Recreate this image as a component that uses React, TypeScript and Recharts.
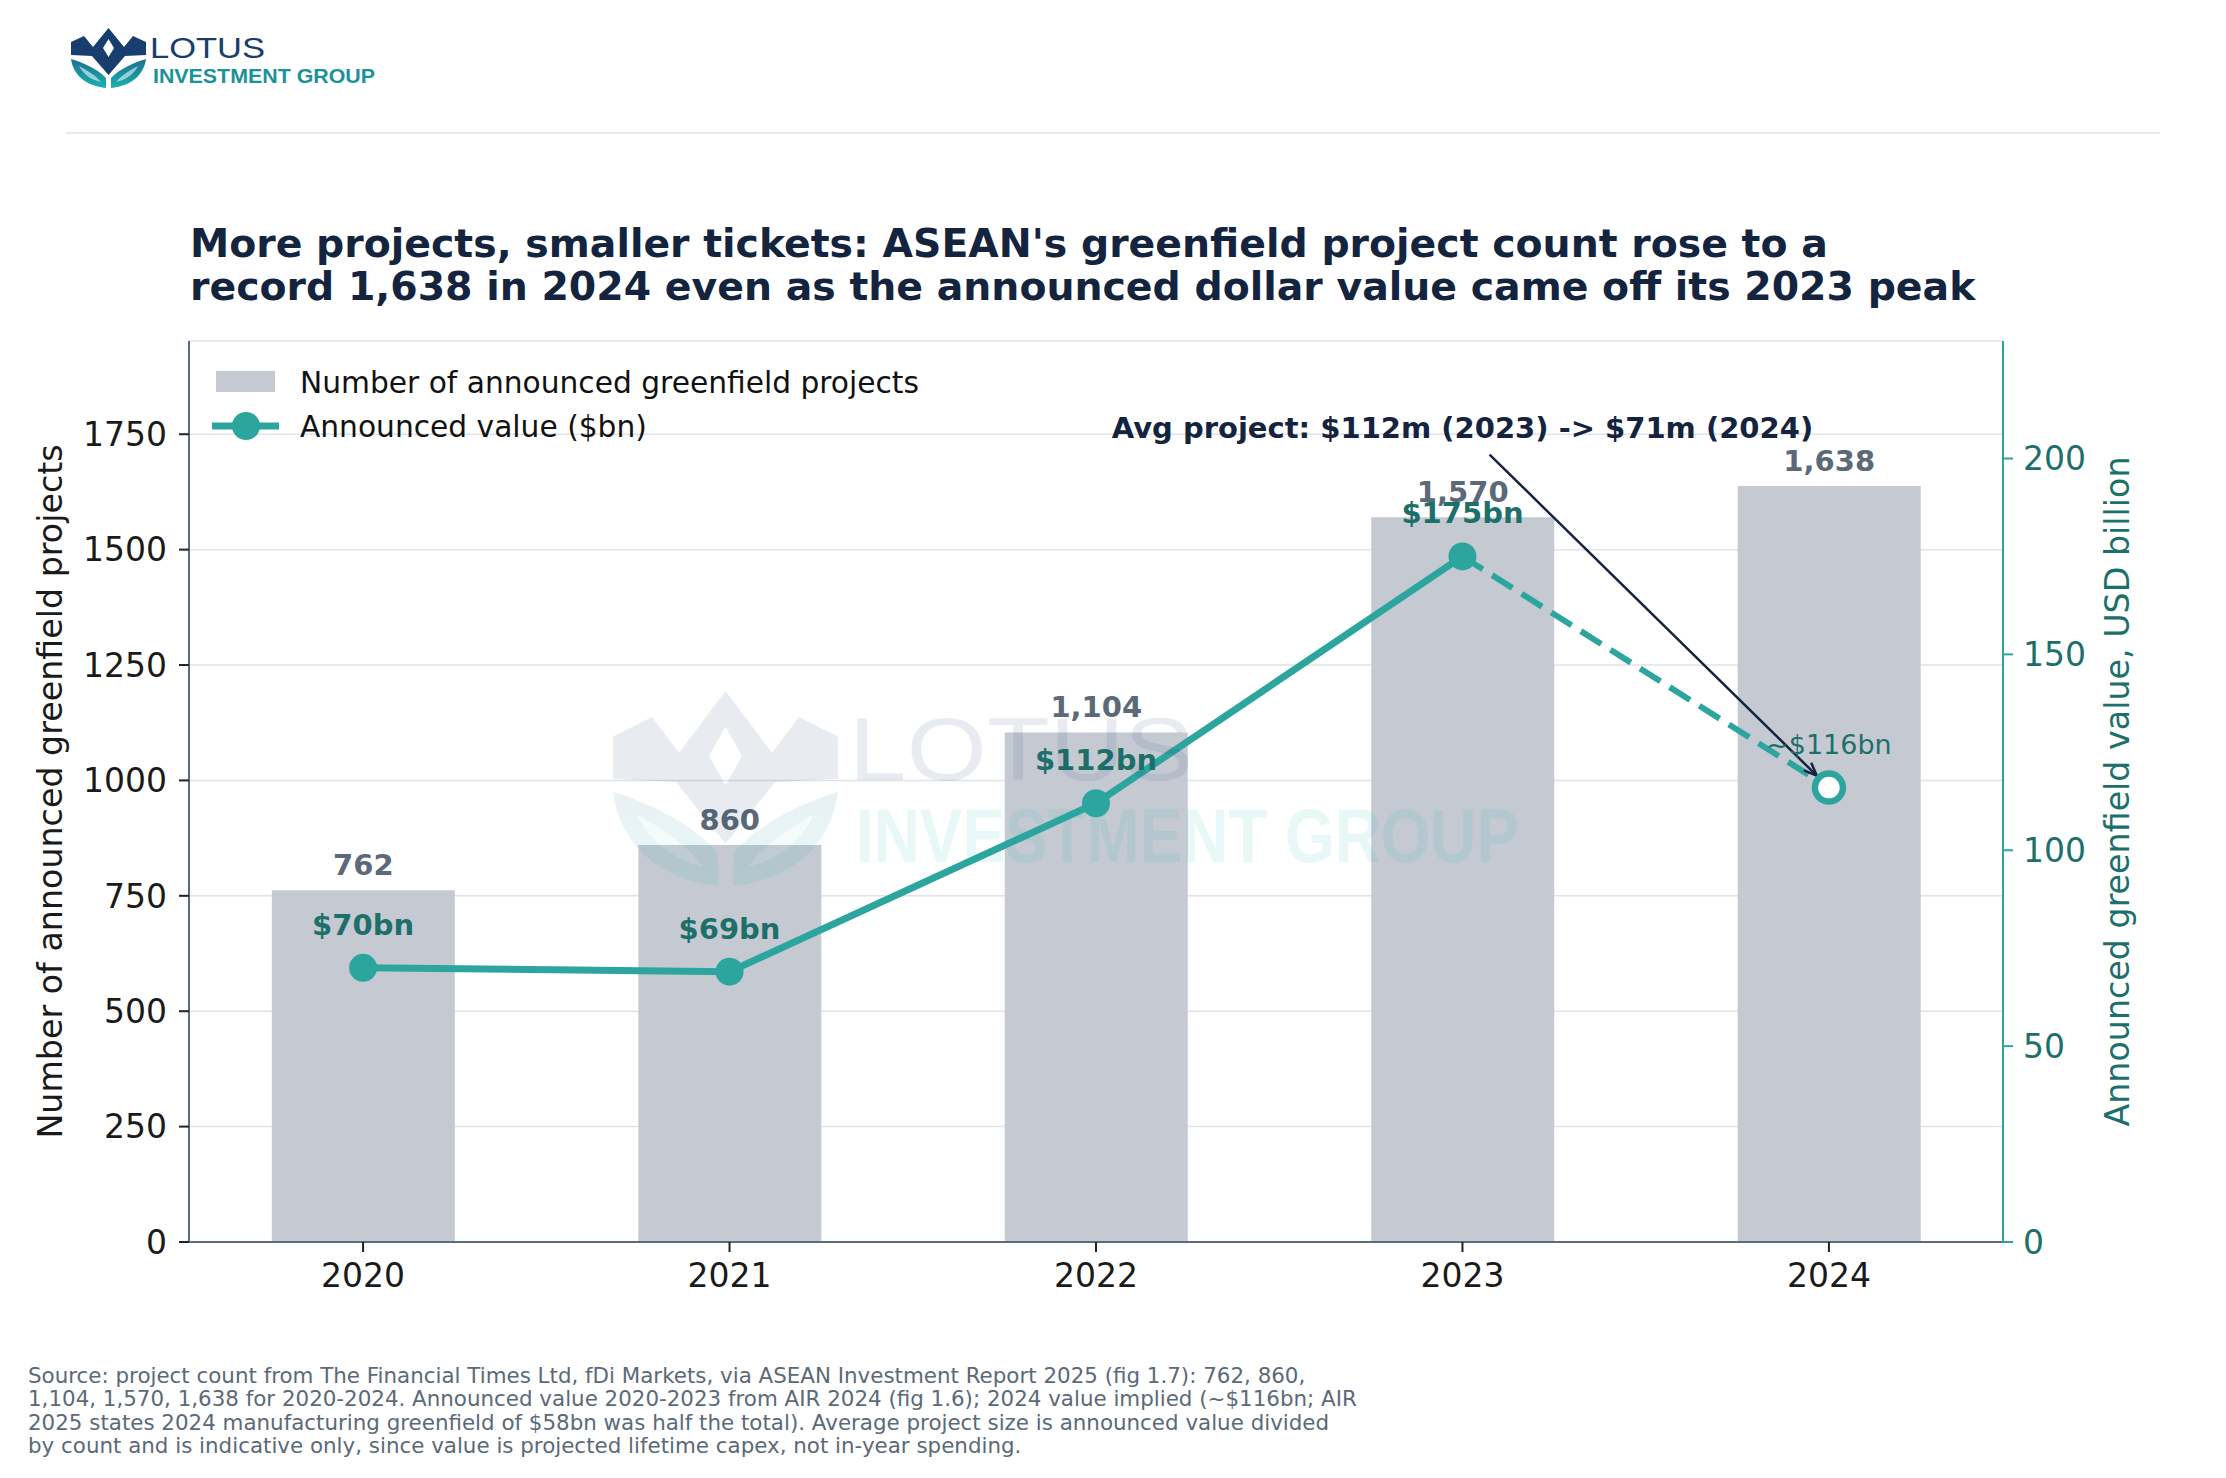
import { ComposedChart, Bar, Line, XAxis, YAxis, CartesianGrid, LabelList, ReferenceLine } from 'recharts';

const years = ['2020', '2021', '2022', '2023', '2024'];
const projectCounts = [762, 860, 1104, 1570, 1638];
// announced value, $bn (2024 is implied, drawn dashed)
const announcedValues = [70, 69, 112, 175, 116];
const impliedIndex = 4;
const countTicks = [0, 250, 500, 750, 1000, 1250, 1500, 1750];
const valueTicks = [0, 50, 100, 150, 200];

const TEAL = '#2ca59e';
const TEAL_DARK = '#1d6f6a';
const NAVY = '#14243f';
const SLATE = '#5c6b7a';
const BAR = '#c5cad2';
const FONT = '"DejaVu Sans", sans-serif';

const data = years.map((year, i) => ({
  idx: i,
  year,
  count: projectCounts[i],
  value: i < impliedIndex ? announcedValues[i] : null,
  implied: i >= impliedIndex - 1 ? announcedValues[i] : null,
}));

const CountLabel = (props: any) => {
  const { x, y, width, value } = props;
  return (
    <text x={x + width / 2} y={y - 25} textAnchor="middle" dominantBaseline="central"
      fontFamily={FONT} fontSize={29} fontWeight="bold" fill="#5b6978">
      {Number(value).toLocaleString('en-US')}
    </text>
  );
};

const ValueLabel = (props: any) => {
  const { x, y, value } = props;
  if (value == null) return null;
  return (
    <text x={x} y={y - 43} textAnchor="middle" dominantBaseline="central"
      fontFamily={FONT} fontSize={29} fontWeight="bold" fill={TEAL_DARK}>
      ${value}bn
    </text>
  );
};

const ImpliedLabel = (props: any) => {
  const { x, y, value, index } = props;
  if (value == null || index !== impliedIndex) return null;
  return (
    <text x={x} y={y - 43} textAnchor="middle" dominantBaseline="central"
      fontFamily={FONT} fontSize={27} fill={TEAL_DARK}>
      ~${value}bn
    </text>
  );
};

const SolidDot = (props: any) => {
  const { cx, cy, value, index } = props;
  if (value == null) return <g key={`sd-${index}`} />;
  return <circle key={`sd-${index}`} cx={cx} cy={cy} r={14} fill={TEAL} />;
};

const HollowDot = (props: any) => {
  const { cx, cy, index } = props;
  if (index !== impliedIndex) return <g key={`hd-${index}`} />;
  return <circle key={`hd-${index}`} cx={cx} cy={cy} r={14} fill="#ffffff" stroke={TEAL} strokeWidth={6.5} />;
};

const AnnotationArrow = (props: any) => {
  const { x1, y1, x2, y2 } = props;
  const dx = x2 - x1;
  const dy = y2 - y1;
  const len = Math.sqrt(dx * dx + dy * dy);
  const ux = dx / len;
  const uy = dy / len;
  const sx = x1 + ux * 38;
  const sy = y1 + uy * 38;
  const ex = x2 - ux * 17;
  const ey = y2 - uy * 17;
  const head = 14;
  const a = (22 * Math.PI) / 180;
  const h1x = ex - head * (ux * Math.cos(a) - uy * Math.sin(a));
  const h1y = ey - head * (uy * Math.cos(a) + ux * Math.sin(a));
  const h2x = ex - head * (ux * Math.cos(a) + uy * Math.sin(a));
  const h2y = ey - head * (uy * Math.cos(a) - ux * Math.sin(a));
  return (
    <g>
      <line x1={sx} y1={sy} x2={ex} y2={ey} stroke={NAVY} strokeWidth={2.5} />
      <polyline points={`${h1x},${h1y} ${ex},${ey} ${h2x},${h2y}`} fill="none" stroke={NAVY} strokeWidth={2.5} />
      <text x={x1} y={y1} textAnchor="middle" dominantBaseline="central"
        fontFamily={FONT} fontSize={29} fontWeight="bold" fill={NAVY}>
        Avg project: $112m (2023) -&gt; $71m (2024)
      </text>
    </g>
  );
};

const LeftAxisLabel = (props: any) => {
  const { viewBox } = props;
  const cx = viewBox.x + 50;
  const cy = viewBox.y + viewBox.height / 2;
  return (
    <text x={cx} y={cy} transform={`rotate(-90, ${cx}, ${cy})`} textAnchor="middle" dominantBaseline="central"
      fontFamily={FONT} fontSize={33.3} fill="#1a1a1a">
      Number of announced greenfield projects
    </text>
  );
};

const RightAxisLabel = (props: any) => {
  const { viewBox } = props;
  const cx = viewBox.x + 114;
  const cy = viewBox.y + viewBox.height / 2;
  return (
    <text x={cx} y={cy} transform={`rotate(-90, ${cx}, ${cy})`} textAnchor="middle" dominantBaseline="central"
      fontFamily={FONT} fontSize={33.3} fill={TEAL_DARK}>
      Announced greenfield value, USD billion
    </text>
  );
};

const LotusIcon = ({ id }: { id: string }) => (
  <g>
    <defs>
      <linearGradient id={id} x1="0" y1="0" x2="0" y2="1">
        <stop offset="0%" stopColor="#1d6f8f" />
        <stop offset="100%" stopColor="#19b3b0" />
      </linearGradient>
    </defs>
    <path
      d="M0,14 L13,8 L22,19 L37.5,0 L53,19 L62,8 L75,14 L75,27 L54,28 L37.5,47 L21,28 L0,27 Z M37.5,11 L43,20 L37.5,29 L32,20 Z"
      fill="#173e6e" fillRule="evenodd"
    />
    <path d="M0,31 C10,34 26,40 35,50 L35,60 C14,58 2,46 0,31 Z" fill={`url(#${id})`} />
    <path d="M75,31 C65,34 49,40 40,50 L40,60 C61,58 73,46 75,31 Z" fill={`url(#${id})`} />
    <path d="M8,38 C16,42 24,47 30,54 C20,52 12,46 8,38 Z" fill="#ffffff" opacity={0.55} />
    <path d="M67,38 C59,42 51,47 45,54 C55,52 63,46 67,38 Z" fill="#ffffff" opacity={0.55} />
  </g>
);

const footerLines = [
  'Source: project count from The Financial Times Ltd, fDi Markets, via ASEAN Investment Report 2025 (fig 1.7): 762, 860,',
  '1,104, 1,570, 1,638 for 2020-2024. Announced value 2020-2023 from AIR 2024 (fig 1.6); 2024 value implied (~$116bn; AIR',
  '2025 states 2024 manufacturing greenfield of $58bn was half the total). Average project size is announced value divided',
  'by count and is indicative only, since value is projected lifetime capex, not in-year spending.',
];

export default function App() {
  return (
    <div style={{ position: 'absolute', left: 0, top: 0, width: 2226, height: 1478, background: '#ffffff', fontFamily: FONT }}>
      <svg width={2226} height={1478} style={{ position: 'absolute', left: 0, top: 0 }}>
        <g transform="translate(71,28)">
          <LotusIcon id="logoGrad" />
        </g>
        <text x={150} y={58} fontFamily='"Liberation Sans", Arial, sans-serif' fontSize={30} fill="#173e6e"
          textLength={115} lengthAdjust="spacingAndGlyphs">LOTUS</text>
        <text x={153} y={83} fontFamily='"Liberation Sans", Arial, sans-serif' fontSize={21} fontWeight="bold" fill="#1a929c"
          textLength={222} lengthAdjust="spacingAndGlyphs">INVESTMENT GROUP</text>
        <line x1={66} y1={133} x2={2160} y2={133} stroke="#e2e2dc" strokeWidth={1.5} />
        <text x={190} y={257} fontFamily={FONT} fontSize={39.4} fontWeight="bold" fill={NAVY}>
          More projects, smaller tickets: ASEAN's greenfield project count rose to a
        </text>
        <text x={190} y={300} fontFamily={FONT} fontSize={39.4} fontWeight="bold" fill={NAVY}>
          record 1,638 in 2024 even as the announced dollar value came off its 2023 peak
        </text>
        {footerLines.map((t, i) => (
          <text key={i} x={28} y={1383 + i * 23.3} fontFamily={FONT} fontSize={21.4} fill="#5b6978">{t}</text>
        ))}
      </svg>

      <div style={{ position: 'absolute', left: 0, top: 0 }}>
        <ComposedChart width={2226} height={1478} data={data} margin={{ top: 341, right: 0, bottom: 186, left: 0 }}>
          <CartesianGrid vertical={false} stroke="#dfe2e7" strokeWidth={1.5} />
          <XAxis
            dataKey="idx"
            type="number"
            domain={[-0.475, 4.475]}
            ticks={[0, 1, 2, 3, 4]}
            allowDataOverflow
            interval={0}
            tickFormatter={(v: number) => years[v]}
            height={50}
            tickSize={10}
            tickMargin={12}
            axisLine={{ stroke: SLATE, strokeWidth: 2 }}
            tickLine={{ stroke: '#222', strokeWidth: 2 }}
            tick={{ fill: '#1a1a1a', fontSize: 33, fontFamily: FONT }}
          />
          <YAxis
            domain={[0, 1952]}
            ticks={countTicks}
            allowDataOverflow
            width={189}
            tickSize={10}
            tickMargin={12}
            axisLine={{ stroke: SLATE, strokeWidth: 2 }}
            tickLine={{ stroke: '#222', strokeWidth: 2 }}
            tick={{ fill: '#1a1a1a', fontSize: 33, fontFamily: FONT }}
            label={LeftAxisLabel}
          />
          <YAxis
            yAxisId="right"
            orientation="right"
            domain={[0, 230]}
            ticks={valueTicks}
            allowDataOverflow
            width={223}
            tickSize={10}
            tickMargin={10}
            axisLine={{ stroke: TEAL, strokeWidth: 2 }}
            tickLine={{ stroke: TEAL, strokeWidth: 2 }}
            tick={{ fill: TEAL_DARK, fontSize: 33, fontFamily: FONT }}
            label={RightAxisLabel}
          />
          <Bar dataKey="count" fill={BAR} barSize={183} isAnimationActive={false}>
            <LabelList dataKey="count" content={CountLabel} />
          </Bar>
          <Line
            yAxisId="right"
            dataKey="value"
            stroke={TEAL}
            strokeWidth={7}
            dot={SolidDot}
            activeDot={false}
            isAnimationActive={false}
          >
            <LabelList dataKey="value" content={ValueLabel} />
          </Line>
          <Line
            yAxisId="right"
            dataKey="implied"
            stroke={TEAL}
            strokeWidth={6}
            strokeDasharray="24 11"
            dot={HollowDot}
            activeDot={false}
            isAnimationActive={false}
          >
            <LabelList dataKey="implied" content={ImpliedLabel} />
          </Line>
          <ReferenceLine
            yAxisId="right"
            segment={[{ x: 3.0, y: 207.8 }, { x: 4, y: 116 }]}
            shape={AnnotationArrow}
          />
        </ComposedChart>
      </div>

      <svg width={2226} height={1478} style={{ position: 'absolute', left: 0, top: 0, pointerEvents: 'none' }}>
        {/* legend */}
        <rect x={216} y={371} width={59} height={21} fill={BAR} />
        <text x={300} y={382} dominantBaseline="central" fontFamily={FONT} fontSize={29.7} fill="#111">
          Number of announced greenfield projects
        </text>
        <line x1={212} y1={426} x2={279} y2={426} stroke={TEAL} strokeWidth={7} />
        <circle cx={246} cy={426} r={14} fill={TEAL} />
        <text x={300} y={426} dominantBaseline="central" fontFamily={FONT} fontSize={29.7} fill="#111">
          Announced value ($bn)
        </text>
        {/* watermark */}
        <g opacity={0.1}>
          <g transform="translate(613,691) scale(3,3.25)">
            <LotusIcon id="wmGrad" />
          </g>
          <text x={849} y={780} fontFamily='"Liberation Sans", Arial, sans-serif' fontSize={89} fill="#173e6e"
            textLength={344} lengthAdjust="spacingAndGlyphs">LOTUS</text>
          <text x={856} y={862} fontFamily='"Liberation Sans", Arial, sans-serif' fontSize={76} fontWeight="bold" fill="#19b3b0"
            textLength={663} lengthAdjust="spacingAndGlyphs">INVESTMENT GROUP</text>
        </g>
      </svg>
    </div>
  );
}
